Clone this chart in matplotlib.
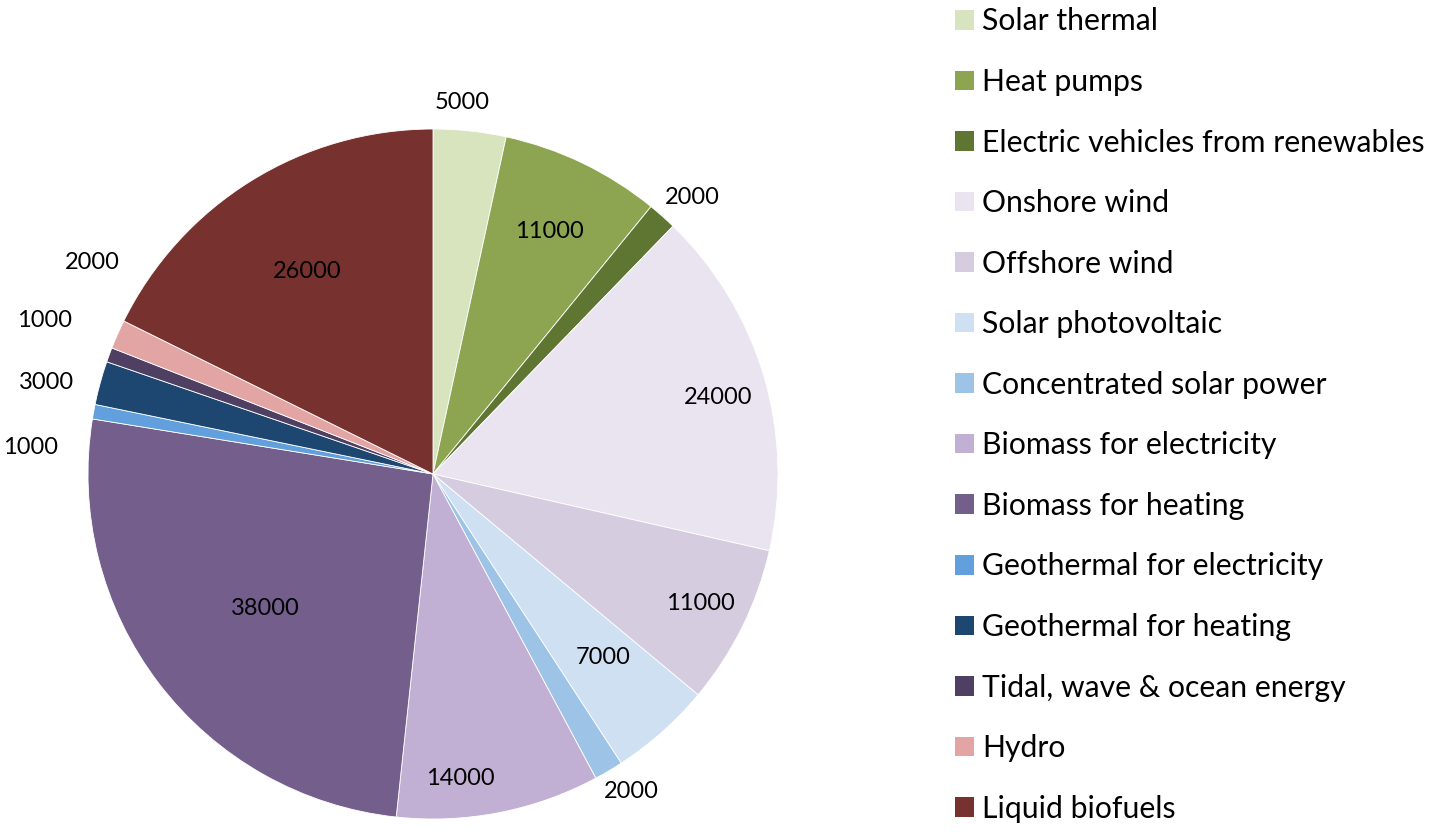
import numpy as np
import matplotlib
matplotlib.use("Agg")
import matplotlib.pyplot as plt
from matplotlib.patches import Patch

plt.rcParams["font.family"] = ["Lato", "DejaVu Sans"]

categories = [
    "Solar thermal", "Heat pumps", "Electric vehicles from renewables",
    "Onshore wind", "Offshore wind", "Solar photovoltaic",
    "Concentrated solar power", "Biomass for electricity",
    "Biomass for heating", "Geothermal for electricity",
    "Geothermal for heating", "Tidal, wave & ocean energy",
    "Hydro", "Liquid biofuels",
]
values = [5000, 11000, 2000, 24000, 11000, 7000, 2000, 14000,
          38000, 1000, 3000, 1000, 2000, 26000]
colors = ["#D7E4BD", "#8DA551", "#5F7633", "#EAE4F0", "#D6CCE0",
          "#CFE0F2", "#9DC3E6", "#C1B0D3", "#735E8C", "#61A0DC",
          "#1D4670", "#4F3F62", "#E2A5A4", "#77322F"]

# label placement: radius factor and angle nudge (deg) per slice
label_r = [1.08, 0.78, 1.10, 0.855, 0.86, 0.725, 1.087, 0.887,
           0.623, 1.17, 1.15, 1.21, 1.163, 0.69]
label_nudge = [1.6, 0, -1.5, -1.6, 0.5, 1.3, 1.4, -5.9, 1.3, 6.6, 2, -1.3, -8, 0]

fig = plt.figure(figsize=(14.39, 8.34), dpi=100)
R = 345
cx, cy = 433, 834 - 474
ax = fig.add_axes([(cx - R) / 1439, (cy - R) / 834, 2 * R / 1439, 2 * R / 834])

wedges, _ = ax.pie(values, colors=colors, startangle=90, counterclock=False,
                   radius=1, wedgeprops=dict(edgecolor="white", linewidth=0.6))
ax.set_xlim(-1, 1)
ax.set_ylim(-1, 1)
ax.set_aspect("equal")
ax.axis("off")

for w, v, r, dn in zip(wedges, values, label_r, label_nudge):
    ang = np.deg2rad((w.theta1 + w.theta2) / 2 + dn)
    ax.text(r * np.cos(ang), r * np.sin(ang), str(v), ha="center",
            va="center", fontsize=17, color="black")

handles = [Patch(facecolor=c, edgecolor="none") for c in colors]
fig.legend(handles, categories, loc="upper left",
           bbox_to_anchor=(943 / 1439, 1.0055), frameon=False, fontsize=21.7,
           handlelength=0.62, handleheight=0.62, handletextpad=0.27,
           labelspacing=1.08, borderaxespad=0)

fig.savefig("out.png", dpi=100)
